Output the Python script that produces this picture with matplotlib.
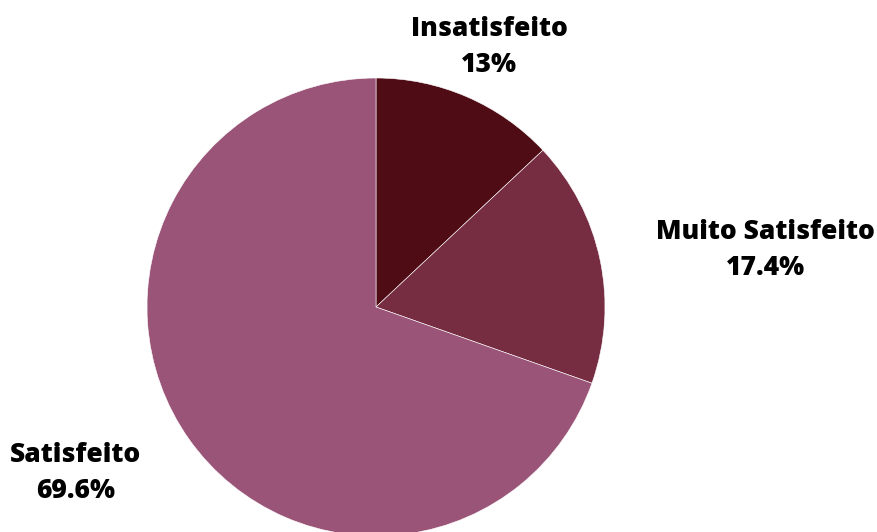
import matplotlib
matplotlib.use('Agg')
import matplotlib.pyplot as plt

# satisfaction survey shares (%)
categories = ['Insatisfeito', 'Muito Satisfeito', 'Satisfeito']
shares = [13, 17.4, 69.6]
share_labels = ['13%', '17.4%', '69.6%']
colors = ['#4f0c14', '#762d42', '#9a5478']

fig = plt.figure(figsize=(8.78, 5.32), dpi=100)
ax = fig.add_axes([0, 0, 1, 1])

ax.pie(shares, colors=colors, startangle=90, counterclock=False,
       center=(376, 225), radius=229, frame=True,
       wedgeprops=dict(edgecolor='white', linewidth=0.4))
ax.set_xlim(0, 878)
ax.set_ylim(0, 532)
ax.set_aspect('equal')
ax.axis('off')

# label positions in pixel space (y from bottom)
label_pos = [(489, 485), (765, 282), (76, 59)]
for name, lab, (x, y) in zip(categories, share_labels, label_pos):
    ax.text(x, y, f"{name}\n{lab}", ha='center', va='center',
            fontsize=19, fontweight='heavy', family='Open Sans',
            linespacing=1.52, color='black')

fig.savefig('out.png', dpi=100)
